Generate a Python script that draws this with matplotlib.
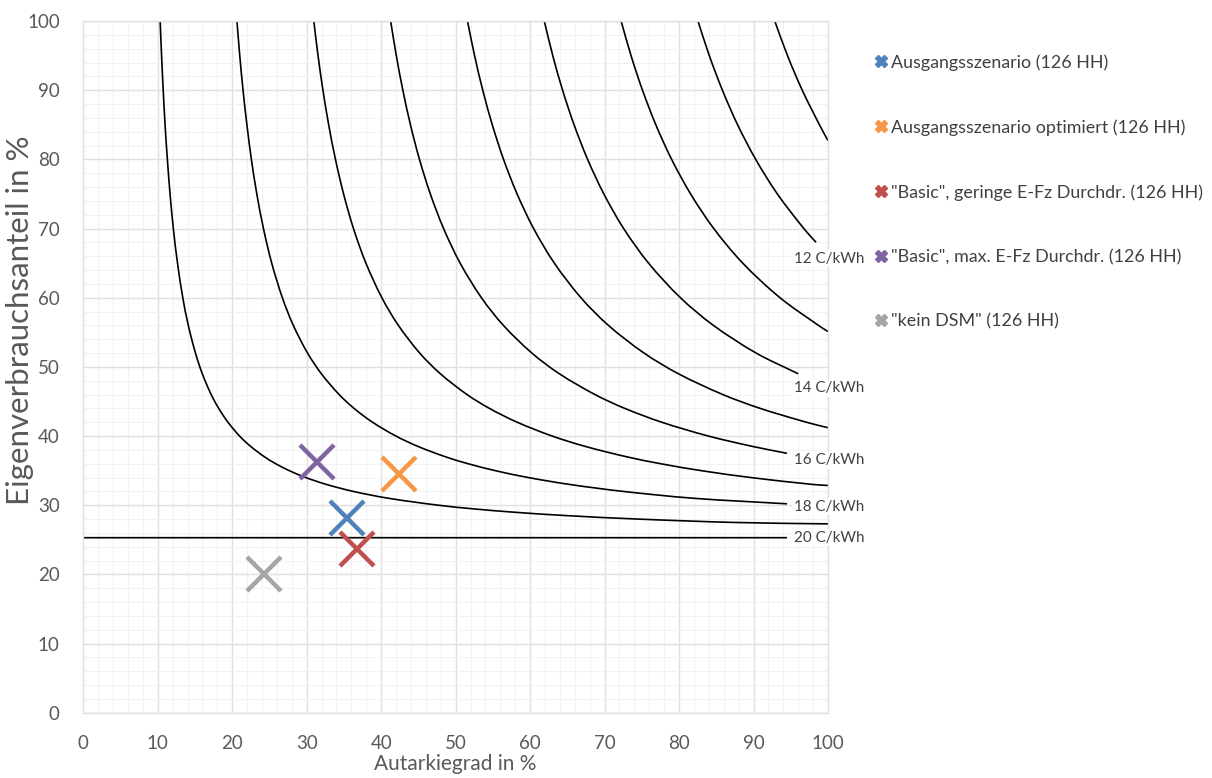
import matplotlib
matplotlib.use("Agg")
import numpy as np
import matplotlib.pyplot as plt
from matplotlib.lines import Line2D
from matplotlib.path import Path
from matplotlib.patches import PathPatch

plt.rcParams['font.family'] = ['Lato', 'DejaVu Sans']

# ---------------- data ----------------
# iso-cost curves (x = Autarkiegrad %, y = Eigenverbrauchsanteil %)
c1_x = [10.32, 10.51, 10.73, 10.98, 11.29, 11.65, 12.09, 12.65, 13.36, 14.10, 15.06, 15.98, 17.17, 18.18, 19.42,
        20.98, 22.47, 24.32, 25.83, 27.65, 29.87, 32.65, 36.22, 40.98, 47.65, 52.09, 57.65, 64.79, 74.32, 87.65, 100]
c1_y = [100, 95, 90, 85, 80, 75, 70, 65, 60, 56, 52, 49, 46, 44, 42,
        40, 38.5, 37, 36, 35, 34, 33, 32, 31, 30, 29.5, 29, 28.5, 28, 27.5, 27.3]
c2_x = [20.63, 21.01, 21.45, 21.97, 22.57, 23.30, 24.19, 25.30, 26.73, 28.20, 30.11, 31.97, 34.35, 36.35, 38.83,
        41.97, 44.93, 48.63, 51.66, 55.30, 59.74, 65.30, 72.44, 81.97, 94.5]
c2_y = [100, 95, 90, 85, 80, 75, 70, 65, 60, 56, 52, 49, 46, 44, 42,
        40, 38.5, 37, 36, 35, 34, 33, 32, 31, 30.2]
c3_x = [30.95, 31.52, 32.18, 32.95, 33.86, 34.95, 36.28, 37.95, 40.09, 42.31, 45.17, 47.95, 51.52, 54.53, 58.25,
        62.95, 67.40, 72.95, 77.50, 82.95, 89.62, 97.95, 100]
c3_y = [100, 95, 90, 85, 80, 75, 70, 65, 60, 56, 52, 49, 46, 44, 42,
        40, 38.5, 37, 36, 35, 34, 33, 32.85]
c4_x = [41.27, 42.03, 42.91, 43.93, 45.14, 46.60, 48.38, 50.60, 53.46, 56.41, 60.23, 63.93, 68.70, 72.70, 77.66,
        83.93, 89.86, 94.5]
c4_y = [100, 95, 90, 85, 80, 75, 70, 65, 60, 56, 52, 49, 46, 44, 42, 40, 38.5, 37.5]
c5_x = [51.59, 52.54, 53.64, 54.92, 56.43, 58.25, 60.47, 63.25, 66.82, 70.51, 75.29, 79.92, 85.87, 90.88, 97.08, 100]
c5_y = [100, 95, 90, 85, 80, 75, 70, 65, 60, 56, 52, 49, 46, 44, 42, 41.2]
c6_x = [61.90, 63.04, 64.36, 65.90, 67.72, 69.90, 72.56, 75.90, 80.18, 84.61, 90.34, 96]
c6_y = [100, 95, 90, 85, 80, 75, 70, 65, 60, 56, 52, 49.0]
c7_x = [72.22, 73.55, 75.09, 76.88, 79.00, 81.55, 84.66, 88.55, 93.55, 98.71, 100]
c7_y = [100, 95, 90, 85, 80, 75, 70, 65, 60, 56, 55.1]
c8_x = [82.54, 84.06, 85.82, 87.86, 90.29, 93.20, 96.75, 98.4]
c8_y = [100, 95, 90, 85, 80, 75, 70, 68.0]
c9_x = [92.85, 94.56, 96.54, 98.85, 100]
c9_y = [100, 95, 90, 85, 82.7]
h_x = [0, 94.5]
h_y = [25.3, 25.3]

curve_labels = ["12 C/kWh", "14 C/kWh", "16 C/kWh", "18 C/kWh", "20 C/kWh"]
curve_label_y = [65.6, 46.9, 36.5, 29.8, 25.3]

scen_names = ["Ausgangsszenario (126 HH)", "Ausgangsszenario optimiert (126 HH)",
              "\"Basic\", geringe E-Fz Durchdr. (126 HH)", "\"Basic\", max. E-Fz Durchdr. (126 HH)",
              "\"kein DSM\" (126 HH)"]
scen_x = [35.4, 42.4, 36.7, 31.4, 24.2]
scen_y = [28.1, 34.5, 23.6, 36.2, 20.0]
scen_colors = ["#4F81BD", "#F79646", "#C0504D", "#8064A2", "#A5A5A5"]

x_ticks = list(range(0, 101, 10))
y_ticks = list(range(0, 101, 10))


def smooth_path(xs, ys):
    """Smoothed line through the given points (like a spreadsheet 'smoothed line')."""
    P = np.column_stack([xs, ys]).astype(float)
    n = len(P)
    T = np.zeros_like(P)
    for i in range(n):
        d = P[min(i + 1, n - 1)] - P[max(i - 1, 0)]
        T[i] = d / np.hypot(*d)
    verts = [P[0]]
    codes = [Path.MOVETO]
    for i in range(n - 1):
        L = np.hypot(*(P[i + 1] - P[i]))
        verts += [P[i] + T[i] * L / 3, P[i + 1] - T[i + 1] * L / 3, P[i + 1]]
        codes += [Path.CURVE4] * 3
    return Path(verts, codes)


# ---------------- figure ----------------
W, H = 1212, 778
fig = plt.figure(figsize=(W / 100, H / 100), dpi=100)
ax = fig.add_axes([83.3 / W, 1 - 712.7 / H, (828 - 83.3) / W, (712.7 - 21) / H])

ax.set_xlim(0, 100)
ax.set_ylim(0, 100)
ax.set_xticks(x_ticks)
ax.set_yticks(y_ticks)
ax.set_xticks(range(0, 101, 2), minor=True)
ax.set_yticks(range(0, 101, 2), minor=True)
ax.grid(which='major', color='#E0E0E0', lw=1.0, zorder=0)
ax.grid(which='minor', color='#F2F2F2', lw=0.8, zorder=0)
ax.set_axisbelow(True)
for s in ax.spines.values():
    s.set_color('#E0E0E0')
    s.set_linewidth(1.0)
ax.tick_params(which='both', length=0)
ax.tick_params(axis='x', labelsize=13.5, labelcolor='#595959', pad=16)
ax.tick_params(axis='y', labelsize=13.5, labelcolor='#595959', pad=17)

curves = [(c1_x, c1_y), (c2_x, c2_y), (c3_x, c3_y), (c4_x, c4_y), (c5_x, c5_y),
          (c6_x, c6_y), (c7_x, c7_y), (c8_x, c8_y), (c9_x, c9_y), (h_x, h_y)]
for cx, cy in curves:
    ax.add_patch(PathPatch(smooth_path(cx, cy), fc='none', ec='black', lw=1.2, zorder=2,
                           capstyle='butt'))

for txt, ly in zip(curve_labels, curve_label_y):
    ax.text(95.4, ly, txt, fontsize=10.9, color='#404040', va='center', ha='left',
            clip_on=False, zorder=3,
            bbox=dict(boxstyle='square,pad=0.1', fc='white', ec='none'))

for x, y, c, n in zip(scen_x, scen_y, scen_colors, scen_names):
    ax.plot([x], [y], ls='none', marker='x', ms=24, mew=3.2, color=c, zorder=4, label=n)

handles = [Line2D([], [], ls='none', marker='X', ms=9, color=c, mec=c) for c in scen_colors]
fig.legend(handles, scen_names, loc='upper left', bbox_to_anchor=(868 / W, 1 - 47 / H),
           frameon=False, fontsize=12.9, labelcolor='#404040', handlelength=0.6,
           handletextpad=0.3, labelspacing=2.7, borderaxespad=0)

ax.set_xlabel("Autarkiegrad in %", fontsize=15, color='#595959')
ax.set_ylabel("Eigenverbrauchsanteil in %", fontsize=22.5, color='#595959')
ax.xaxis.set_label_coords(0.5, -0.059)
ax.yaxis.set_label_coords(-0.0665, 0.567)

fig.savefig("out.png", dpi=100)
